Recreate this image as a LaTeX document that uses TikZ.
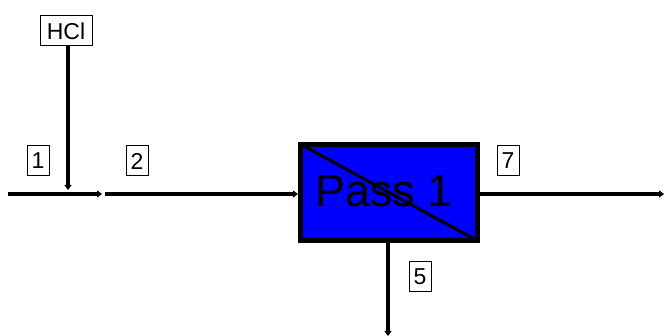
\documentclass[tikz,border=0pt]{standalone}
\usepackage{fontspec}
\setmainfont{Liberation Sans}
\usetikzlibrary{arrows.meta}
\begin{document}
\begin{tikzpicture}[x=1pt,y=-1pt,
  lbl/.style={draw=black, line width=1pt, fill=white, font=\fontsize{23}{25}\selectfont, inner sep=0pt, minimum width=#1, minimum height=30pt},
  lbl/.default=22pt,
  stream/.style={line width=3.5pt, -{Triangle[length=5pt,width=7pt]}},
  unitbox/.style={draw=black, line width=5pt, fill={rgb,255:red,0;green,0;blue,255}, minimum width=177pt, minimum height=96pt, inner sep=0pt}]
\useasboundingbox (0,0) rectangle (664,336);
% unit
\node[unitbox] (pass) at (389,192.5) {};
\draw[line width=3pt, line cap=round] ([shift={(2pt,-2pt)}]pass.north west) -- ([shift={(-2pt,2pt)}]pass.south east);
\node[anchor=base, font=\fontsize{45}{48}\selectfont, inner sep=0pt] (passtxt) at (384,207) {Pass 1};
% labels
\node[lbl=52pt] (hcl) at (66,31) {HCl};
\node[lbl] (l1) at (38,161) {1};
\node[lbl] (l2) at (137,161) {2};
\node[lbl] (l7) at (508,161) {7};
\node[lbl] (l5) at (420,277) {5};
% stream points
\coordinate (s1a) at (8,194);
\coordinate (s1b) at (102,194);
\coordinate (s2a) at (105,194);
\coordinate (hclend) at (68,190);
\coordinate (s7b) at (664,194);
\coordinate (s5b) at (388,336);
% streams
\draw[stream] (s1a) -- (s1b);
\draw[stream] (hcl.south -| hclend) -- (hclend);
\draw[stream] (s2a) -- (s2a -| pass.west);
\draw[stream] (s7b -| pass.east) -- (s7b);
\draw[stream] (s5b |- pass.south) -- (s5b);
\end{tikzpicture}
\end{document}
